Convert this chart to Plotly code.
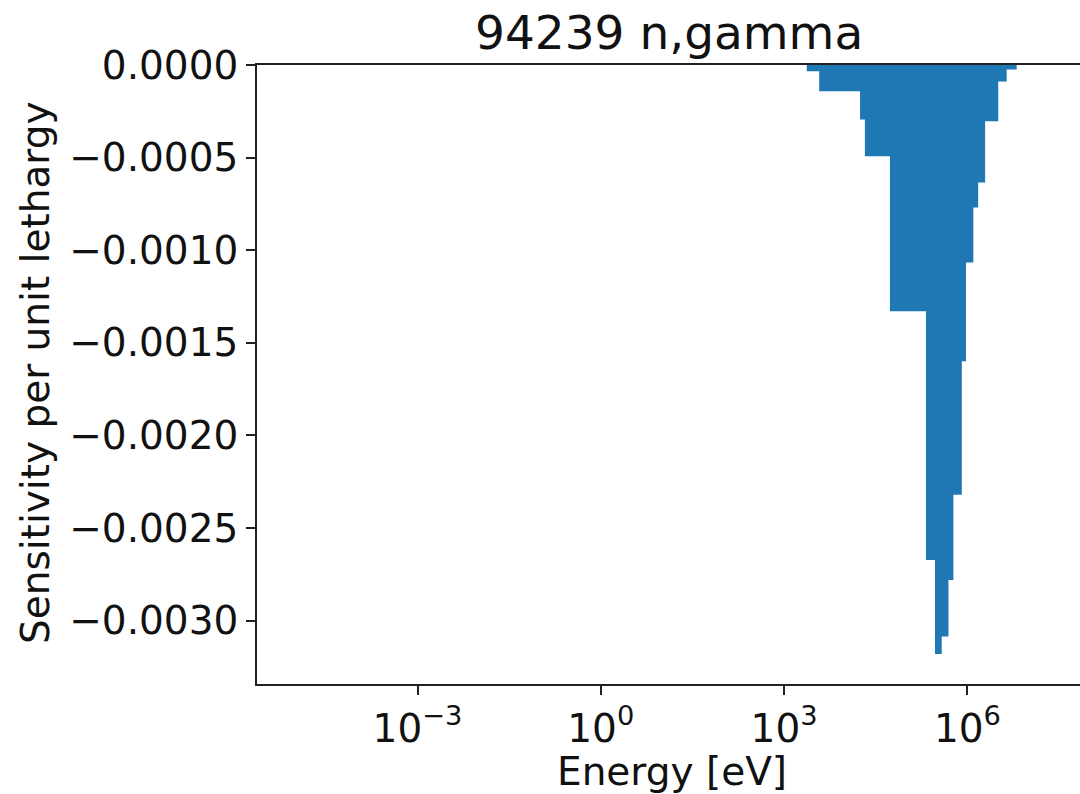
import plotly.graph_objects as go

# Energy group boundaries [eV] and sensitivity per unit lethargy per group
edges = [1e-5, 2.35e3, 3.75e3, 1.75e4, 2.1e4, 5.4e4, 2.1e5, 2.95e5, 3.8e5, 4.9e5,
         5.9e5, 8.1e5, 9.5e5, 1.25e6, 1.5e6, 1.95e6, 3.2e6, 4.4e6, 6.4e6, 2e7]
sens = [0.0, -3.35e-5, -1.42e-4, -2.94e-4, -4.93e-4, -1.33e-3, -2.672e-3, -3.18e-3,
        -3.086e-3, -2.78e-3, -2.32e-3, -1.60e-3, -1.066e-3, -7.7e-4, -6.35e-4,
        -3.04e-4, -8.9e-5, -2.4e-5, 0.0]

title_text = "94239 n,gamma"
xlabel = "Energy [eV]"
ylabel = "Sensitivity per unit lethargy"
xtick_vals = [1e-3, 1e0, 1e3, 1e6]
xtick_text = ["10<sup>−3</sup>", "10<sup>0</sup>", "10<sup>3</sup>", "10<sup>6</sup>"]

color = "#1f77b4"
font_family = "DejaVu Sans"

fig = go.Figure()
fig.add_trace(go.Scatter(
    x=edges,
    y=sens + [sens[-1]],
    mode="lines",
    line=dict(shape="hv", color=color, width=0),
    fill="tozeroy",
    fillcolor=color,
    hoverinfo="skip",
    showlegend=False,
))

W, H = 1080, 794
ml, mr, mt, mb = 257, 0, 65, 110

fig.update_layout(
    width=W, height=H,
    margin=dict(l=ml, r=mr, t=mt, b=mb, pad=0),
    paper_bgcolor="white",
    plot_bgcolor="white",
    font=dict(family=font_family, size=39, color="#111111"),
    showlegend=False,
    xaxis=dict(
        type="log",
        range=[-5.627, 7.843],
        tickvals=xtick_vals,
        ticktext=xtick_text,
        ticks="outside", ticklen=9, tickwidth=1.8, tickcolor="#222",
        showline=True, linewidth=1.8, linecolor="#222", mirror=True,
        showgrid=False, zeroline=False,
        tickfont=dict(size=39),
    ),
    yaxis=dict(
        range=[-0.003342, 0.0],
        tick0=0, dtick=0.0005, tickformat=".4f",
        ticks="outside", ticklen=9, tickwidth=1.8, tickcolor="#222",
        showline=True, linewidth=1.8, linecolor="#222", mirror=False,
        showgrid=False, zeroline=False,
        tickfont=dict(size=39),
    ),
    annotations=[
        dict(text=title_text, xref="paper", yref="paper",
             x=(669 - ml) / (W - ml - mr), y=1 + (mt - 33) / (H - mt - mb),
             xanchor="center", yanchor="middle", showarrow=False,
             font=dict(size=47, family=font_family, color="#111111")),
        dict(text=xlabel, xref="paper", yref="paper",
             x=(672 - ml) / (W - ml - mr), y=-(771 - (H - mb)) / (H - mt - mb),
             xanchor="center", yanchor="middle", showarrow=False,
             font=dict(size=39, family=font_family, color="#111111")),
        dict(text=ylabel, xref="paper", yref="paper", textangle=-90,
             x=-(ml - 35) / (W - ml - mr), y=1 - (372 - mt) / (H - mt - mb),
             xanchor="center", yanchor="middle", showarrow=False,
             font=dict(size=39, family=font_family, color="#111111")),
    ],
)

fig.write_html("out.html")
